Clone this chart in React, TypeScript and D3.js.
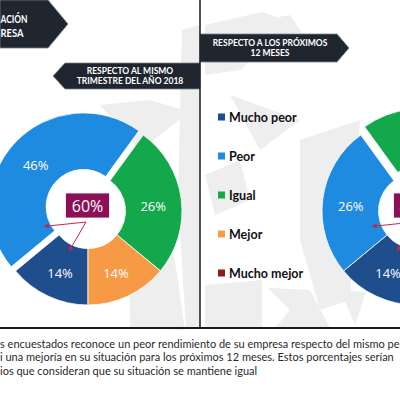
import React from "react";
import * as d3 from "d3";

const categories = ["Mucho peor", "Peor", "Igual", "Mejor", "Mucho mejor"];
const sliceColors = ["#1f4e8c", "#1e8be0", "#12a84b", "#f79a45", "#8b1a1a"];
const valuesTrimestre = [14, 46, 26, 14, 0];
const valuesProximos = [14, 26, 34, 22, 4];
const centerLabels = ["60%", "40%"];
const explodedCategory = ["Peor", "Igual"];
const bannerLeft = ["RESPECTO AL MISMO", "TRIMESTRE DEL AÑO 2018"];
const bannerRight = ["RESPECTO A LOS PRÓXIMOS", "12 MESES"];
const titleLines = ["ACIÓN", "RESA"];
const footerLines = [
  "s encuestados reconoce un peor rendimiento de su empresa respecto del mismo periodo",
  "i una mejoría en su situación para los próximos 12 meses. Estos porcentajes serían",
  "ios que consideran que su situación se mantiene igual",
];

const W = 400;
const H = 394;
const R = 94;
const r0 = 37.5;

const pie = d3
  .pie<number>()
  .sort(null)
  .value((d) => d)
  .startAngle(Math.PI)
  .endAngle(3 * Math.PI);
const arc = d3.arc<d3.PieArcDatum<number>>().innerRadius(r0).outerRadius(R);

function polar(a: number, r: number): [number, number] {
  return [Math.sin(a) * r, -Math.cos(a) * r];
}

function Donut({ cx, cy, values, exploded, explode, label, id }: any) {
  const arcs = pie(values);
  const peorArc = arcs[1];
  const mpArc = arcs[0];
  const start: [number, number] = [-2, 11];
  const endBlue = polar(peorArc.startAngle + 0.35, 46);
  const endDark = polar((mpArc.startAngle + mpArc.endAngle) / 2, 44);
  return (
    <g transform={`translate(${cx},${cy})`}>
      {arcs.map((a, i) => {
        if (a.value === 0) return null;
        const isEx = categories[i] === exploded;
        const mid = (a.startAngle + a.endAngle) / 2;
        const [ox, oy] = isEx ? polar(mid, explode) : [0, 0];
        const [lx, ly] = arc.centroid(a);
        const show = a.value >= 10;
        return (
          <g key={i} transform={`translate(${ox},${oy})`}>
            <path d={arc(a) || ""} fill={sliceColors[i]} stroke="#fff" strokeWidth={0.8} />
            {show && (
              <text
                x={lx}
                y={ly + 3}
                textAnchor="middle"
                dominantBaseline="central"
                fill="#fff"
                fontFamily="'Open Sans', sans-serif"
                fontSize={13}
              >
                {a.value}%
              </text>
            )}
          </g>
        );
      })}
      <defs>
        <marker id={`ah${id}`} viewBox="0 0 6 6" refX="5" refY="3" markerWidth="5" markerHeight="5" orient="auto">
          <path d="M0,0 L6,3 L0,6 z" fill="#c22a4a" />
        </marker>
      </defs>
      <line x1={start[0]} y1={start[1]} x2={endBlue[0]} y2={endBlue[1]} stroke="#c22a4a" strokeWidth={1} markerEnd={`url(#ah${id})`} />
      <line x1={start[0]} y1={start[1]} x2={endDark[0]} y2={endDark[1]} stroke="#c22a4a" strokeWidth={1} markerEnd={`url(#ah${id})`} />
      <rect x={-22.5} y={-18} width={44} height={25} fill="#8c0f58" stroke="#fff" strokeWidth={0.8} />
      <text
        x={-0.5}
        y={-5.5}
        textAnchor="middle"
        dominantBaseline="central"
        fill="#fff"
        fontFamily="'Open Sans', sans-serif"
        fontSize={16}
      >
        {label}
      </text>
    </g>
  );
}

export default function App() {
  const legendY = d3.scalePoint<string>().domain(categories).range([117, 273]);
  const gray = "#eeeeee";
  return (
    <svg width={W} height={H} style={{ position: "absolute", left: 0, top: 0, background: "#fff" }}>
      {/* watermark */}
      <g fill={gray}>
        <polygon points="100,105 150,100 190,112 140,150" />
        <polygon points="182,30 200,25 200,328 186,328 178,200" />
        <polygon points="128,170 160,160 185,330 130,328" />
        <polygon points="205,25 262,12 290,22 240,70 205,75" />
        <polygon points="262,20 290,15 320,60 285,62" />
        <polygon points="230,95 300,120 260,150" />
        <polygon points="300,140 360,120 350,300 320,310 300,240" />
        <polygon points="205,285 262,280 262,328 205,328" />
        <polygon points="268,288 310,290 330,328 275,328 290,310" />
        <polygon points="340,290 366,292 355,325" />
        <polygon points="205,175 240,160 250,200 215,215" />
      </g>

      {/* title banner */}
      <polygon points="0,0 48,0 68,24 48,48 0,48" fill="#1f2630" stroke="#7a828c" strokeWidth={0.8} />
      {titleLines.map((t, i) => (
        <text
          key={t}
          x={0.5}
          y={18 + i * 14}
          dominantBaseline="central"
          fill="#fff"
          fontFamily="Lato, sans-serif"
          fontWeight="bold"
          fontSize={11}
          textLength={i === 0 ? 27 : 23}
          lengthAdjust="spacingAndGlyphs"
        >
          {t}
        </text>
      ))}

      {/* left banner */}
      <polygon points="65,63 200,63 200,89 65,89 53,76" fill="#1f2630" stroke="#7a828c" strokeWidth={0.8} />
      {bannerLeft.map((t, i) => (
        <text
          key={t}
          x={130}
          y={71 + i * 10}
          textAnchor="middle"
          dominantBaseline="central"
          fill="#fff"
          fontFamily="Lato, sans-serif"
          fontWeight="bold"
          fontSize={8.5}
        >
          {t}
        </text>
      ))}

      {/* right banner */}
      <polygon points="200,34 337,34 349,48 337,62 200,62" fill="#1f2630" stroke="#7a828c" strokeWidth={0.8} />
      {bannerRight.map((t, i) => (
        <text
          key={t}
          x={270}
          y={43 + i * 10}
          textAnchor="middle"
          dominantBaseline="central"
          fill="#fff"
          fontFamily="Lato, sans-serif"
          fontWeight="bold"
          fontSize={8.5}
        >
          {t}
        </text>
      ))}

      <Donut cx={88} cy={211} values={valuesTrimestre} exploded={explodedCategory[0]} explode={6} label={centerLabels[0]} id="a" />
      <Donut cx={416} cy={211} values={valuesProximos} exploded={explodedCategory[1]} explode={9} label={centerLabels[1]} id="b" />

      {/* legend */}
      {categories.map((c, i) => (
        <g key={c} transform={`translate(218,${legendY(c)})`}>
          <rect x={0} y={-3.5} width={7} height={7} fill={sliceColors[i]} />
          <text
            x={11}
            y={0}
            dominantBaseline="central"
            fill="#111"
            fontFamily="Lato, sans-serif"
            fontWeight="bold"
            fontSize={12.5}
          >
            {c}
          </text>
        </g>
      ))}

      {/* dividers */}
      <line x1={200} y1={0} x2={200} y2={328} stroke="#1a1a1a" strokeWidth={1.5} />
      <line x1={0} y1={328} x2={W} y2={328} stroke="#1a1a1a" strokeWidth={2} />

      {/* footer */}
      {footerLines.map((t, i) => (
        <text
          key={i}
          x={0}
          y={343 + i * 13.5}
          dominantBaseline="central"
          fill="#2a2a2a"
          fontFamily="Lato, sans-serif"
          fontSize={11}
        >
          {t}
        </text>
      ))}
    </svg>
  );
}
